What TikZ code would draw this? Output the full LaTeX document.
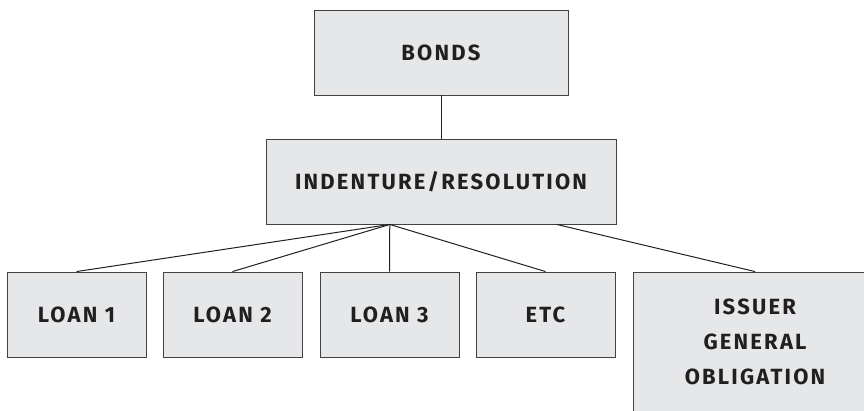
\documentclass[tikz,border=0pt]{standalone}
\usepackage{fontspec}
\newfontfamily\boxfont[LetterSpace=10]{Fira Sans}
\usetikzlibrary{calc}
\definecolor{boxgray}{HTML}{E6E7E8}
\definecolor{inkgray}{HTML}{231F20}
\tikzset{
  box/.style={draw=inkgray!85,fill=boxgray,line width=0.9pt,inner sep=0pt,
    align=center,text=inkgray,font=\boxfont\bfseries\fontsize{22}{35}\selectfont},
  link/.style={draw=inkgray,line width=1pt}
}

\begin{document}
\begin{tikzpicture}[x=1pt,y=-1pt]
  \useasboundingbox (0,0) rectangle (864,410);

  %% Top of the tree
  \node[box,minimum width=254pt,minimum height=85pt] (bonds) at (441,52.5) {BONDS};
  \node[box,minimum width=350pt,minimum height=85pt] (indenture) at (441,181.5)
    {INDENTURE/RESOLUTION};
  \draw[link] (bonds) -- (indenture);

  %% Points on the bottom edge where the lines leave
  \coordinate (fan) at ($(indenture.south west)!0.354!(indenture.south east)$);
  \coordinate (side) at ($(indenture.south west)!0.83!(indenture.south east)$);

  %% Row of loans
  \foreach \i/\x/\txt in {1/76.5/LOAN 1,2/232.5/LOAN 2,3/389.5/LOAN 3,4/545.5/ETC}
  {
    \node[box,minimum width=139pt,minimum height=85pt] (L\i) at (\x,314.5) {\txt};
    \draw[link] (fan) -- (L\i.north);
  }

  \node[box,minimum width=244pt,minimum height=140pt] (issuer) at (755,342)
    {ISSUER\\GENERAL\\OBLIGATION};
  \draw[link] (side) -- (issuer.north);

\end{tikzpicture}
\end{document}
